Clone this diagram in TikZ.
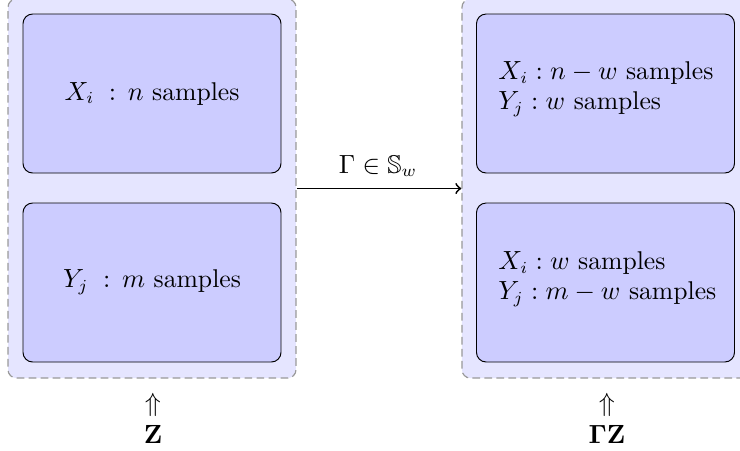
\documentclass[tikz,border=0pt]{standalone}
\usepackage{amsmath,amssymb}
\begin{document}
\begin{tikzpicture}[x=0.4167pt,y=-0.4167pt,
  every node/.style={font=\fontsize{10.7}{12}\selectfont},
  outerbox/.style={draw=gray!80, line width=0.5pt, dash pattern=on 3.2pt off 1.8pt, fill=blue!10,
    rounded corners=3.5pt, minimum height=158pt, inner sep=0pt},
  innerbox/.style={draw=black, fill=blue!20, rounded corners=4pt,
    minimum width=107.5pt, minimum height=66.25pt, inner sep=0pt},
  conn/.style={->, line width=0.75pt},
  lbl/.style={inner sep=0pt},
]
\useasboundingbox (0,0) rectangle (740,450);
% outer boxes
\node[outerbox, minimum width=120pt] (L) at (152,188.5) {};
\node[outerbox, minimum width=119.2pt] (R) at (605,188.5) {};
% inner boxes left
\node[innerbox] (LT) at (152,93.5) {$X_i\;:\,n$ samples};
\node[innerbox] (LB) at (152,282.5) {$Y_j\;:\,m$ samples};
% inner boxes right
\node[innerbox] (RT) at (605.5,93.5) {};
\node[innerbox] (RB) at (605.5,282.5) {};
\node[lbl, anchor=west, align=left] (RTt) at (498,89) {$X_i : n-w$ samples\\[0.5pt]$Y_j : w$ samples};
\node[lbl, anchor=west, align=left] (RBt) at (498,279) {$X_i : w$ samples\\[0.5pt]$Y_j : m-w$ samples};
% arrow
\draw[conn] (L.east) -- (R.west);
\node[lbl] (G) at (378,166) {$\Gamma \in \mathbb{S}_w$};
% bottom labels
\node[lbl] (ua) at (153,405) {$\Uparrow$};
\node[lbl] (z) at (153,434) {$\mathbf{Z}$};
\node[lbl] (ub) at (607,405) {$\Uparrow$};
\node[lbl] (gz) at (607,434) {$\mathbf{\Gamma Z}$};
\end{tikzpicture}
\end{document}
